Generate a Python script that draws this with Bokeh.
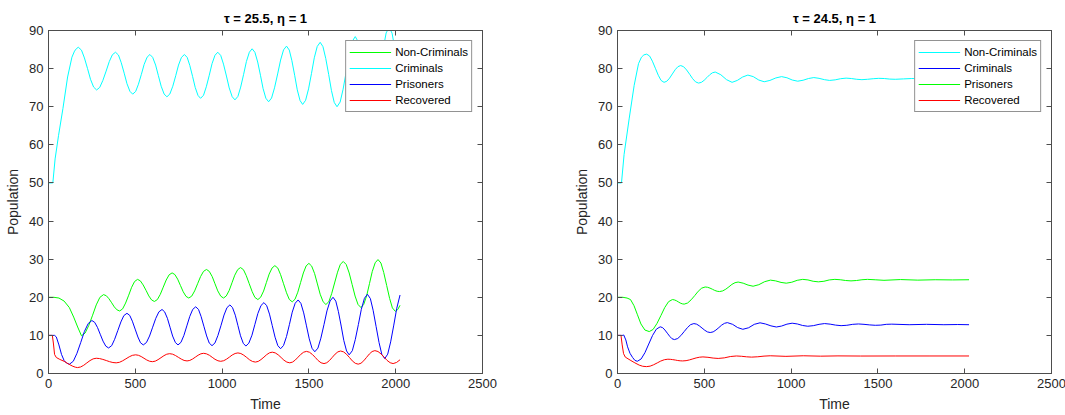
from bokeh.plotting import figure
from bokeh.layouts import row
from bokeh.models import Range1d, FixedTicker, LinearAxis, Legend, LegendItem
from bokeh.embed import file_html
from bokeh.resources import INLINE

# ---------------- data ----------------
X_TICKS = [0, 500, 1000, 1500, 2000, 2500]
Y_TICKS = [0, 10, 20, 30, 40, 50, 60, 70, 80, 90]
TITLE_LEFT = "τ = 25.5, η = 1"
TITLE_RIGHT = "τ = 24.5, η = 1"
X_LABEL = "Time"
Y_LABEL = "Population"

# Left panel (tau = 25.5)
L_GREEN_T = [0, 30, 60, 90, 120, 145, 168, 190,
             211, 232, 254, 275, 296, 317, 333, 348, 364, 379, 395, 410,
             427, 444, 462, 479, 496, 513, 529, 545, 562, 578, 594, 610,
             627, 644, 661, 678, 695, 712, 728, 744, 760, 776, 792, 808,
             825, 842, 859, 876, 893, 910, 926, 943, 959, 975, 992, 1008,
             1024, 1041, 1057, 1073, 1090, 1106, 1123, 1139, 1156, 1173, 1189, 1206,
             1222, 1239, 1255, 1271, 1288, 1304, 1321, 1337, 1354, 1371, 1387, 1404,
             1420, 1436, 1452, 1468, 1484, 1500, 1516, 1533, 1549, 1565, 1582, 1598,
             1615, 1631, 1648, 1665, 1681, 1698, 1715, 1732, 1749, 1766, 1783, 1800,
             1816, 1833, 1849, 1865, 1882, 1898, 1915, 1931, 1948, 1965, 1981, 1998,
             2012, 2025]
L_GREEN_V = [20, 20, 19.8, 19.0, 17.3, 14.8, 12.2, 9.9,
             10.62, 12.6, 15.3, 18.0, 19.98, 20.7, 20.41, 19.63, 18.55, 17.48, 16.69, 16.4,
             16.96, 18.48, 20.55, 22.63, 24.14, 24.7, 24.31, 23.25, 21.8, 20.35, 19.29, 18.9,
             19.4, 20.78, 22.65, 24.53, 25.9, 26.4, 25.96, 24.75, 23.1, 21.45, 20.24, 19.8,
             20.3, 21.68, 23.55, 25.43, 26.8, 27.3, 26.8, 25.43, 23.55, 21.68, 20.3, 19.8,
             20.34, 21.8, 23.8, 25.8, 27.26, 27.8, 27.24, 25.7, 23.6, 21.5, 19.96, 19.4,
             20.0, 21.63, 23.85, 26.08, 27.7, 28.3, 27.66, 25.93, 23.55, 21.18, 19.44, 18.8,
             19.48, 21.33, 23.85, 26.38, 28.22, 28.9, 28.18, 26.2, 23.5, 20.8, 18.82, 18.1,
             18.86, 20.93, 23.75, 26.58, 28.64, 29.4, 28.59, 26.38, 23.35, 20.33, 18.11, 17.3,
             18.14, 20.45, 23.6, 26.75, 29.06, 29.9, 28.99, 26.5, 23.1, 19.7, 17.21, 16.3,
             16.8, 17.9]

L_CYAN_T = [0, 25, 38, 58, 83, 110, 135, 150, 162, 172,
            190, 207, 225, 242, 260, 277, 295, 313, 332, 350, 368, 386,
            403, 419, 436, 452, 469, 485, 502, 518, 535, 551, 568, 584,
            600, 617, 633, 649, 666, 682, 699, 716, 733, 749, 766, 783,
            799, 814, 830, 845, 861, 876, 893, 909, 926, 942, 959, 975,
            992, 1008, 1025, 1041, 1058, 1074, 1091, 1107, 1124, 1140, 1157, 1173,
            1189, 1205, 1221, 1236, 1252, 1268, 1285, 1302, 1320, 1337, 1354, 1371,
            1387, 1402, 1418, 1433, 1449, 1464, 1481, 1498, 1515, 1531, 1548, 1565,
            1581, 1597, 1614, 1630, 1646, 1662, 1680, 1697, 1715, 1732, 1750, 1767,
            1783, 1799, 1815, 1830, 1846, 1862, 1879, 1895, 1912, 1929, 1945, 1962,
            1979, 1995, 2012, 2025]
L_CYAN_V = [50, 50, 56.3, 62.5, 69.5, 77.8, 83.0, 84.6, 85.3, 85.6,
            84.85, 82.8, 80.0, 77.2, 75.15, 74.4, 75.06, 76.88, 79.35, 81.83, 83.64, 84.3,
            83.56, 81.55, 78.8, 76.05, 74.04, 73.3, 74.0, 75.9, 78.5, 81.1, 83.0, 83.7,
            82.96, 80.93, 78.15, 75.38, 73.34, 72.6, 73.34, 75.38, 78.15, 80.93, 82.96, 83.7,
            82.93, 80.83, 77.95, 75.08, 72.97, 72.2, 73.01, 75.23, 78.25, 81.28, 83.49, 84.3,
            83.46, 81.18, 78.05, 74.93, 72.64, 71.8, 72.7, 75.15, 78.5, 81.85, 84.3, 85.2,
            84.27, 81.73, 78.25, 74.78, 72.23, 71.3, 72.28, 74.95, 78.6, 82.25, 84.92, 85.9,
            84.87, 82.08, 78.25, 74.43, 71.63, 70.6, 71.69, 74.68, 78.75, 82.83, 85.81, 86.9,
            85.77, 82.68, 78.45, 74.23, 71.13, 70.0, 71.23, 74.6, 79.2, 83.8, 87.17, 88.4,
            87.12, 83.63, 78.85, 74.08, 70.58, 69.3, 70.74, 74.68, 80.05, 85.43, 89.36, 90.8,
            89.31, 85.25, 79.7, 75.4]

L_BLUE_T = [0, 35, 45, 60, 75, 90, 105, 121,
            143, 164, 186, 207, 229, 250, 266, 282, 298, 314, 330, 346,
            364, 381, 399, 417, 434, 452, 468, 483, 499, 515, 530, 546,
            564, 582, 600, 618, 636, 654, 669, 685, 700, 715, 731, 746,
            763, 780, 797, 814, 831, 848, 864, 879, 895, 911, 926, 942,
            959, 976, 994, 1011, 1028, 1045, 1060, 1076, 1091, 1106, 1122, 1137,
            1154, 1172, 1189, 1206, 1224, 1241, 1257, 1273, 1289, 1305, 1321, 1337,
            1354, 1371, 1388, 1404, 1421, 1438, 1454, 1470, 1486, 1502, 1518, 1534,
            1552, 1569, 1587, 1604, 1622, 1639, 1655, 1670, 1686, 1701, 1717, 1732,
            1750, 1767, 1785, 1802, 1820, 1837, 1854, 1870, 1887, 1904, 1920, 1937,
            1954, 1971, 1989, 2006, 2025]
L_BLUE_V = [10, 10, 9.6, 7.5, 5.0, 3.4, 2.7, 2.45,
            3.22, 5.31, 8.18, 11.04, 13.13, 13.9, 13.42, 12.1, 10.3, 8.5, 7.18, 6.7,
            7.31, 8.98, 11.25, 13.53, 15.19, 15.8, 15.24, 13.73, 11.65, 9.58, 8.06, 7.5,
            8.12, 9.83, 12.15, 14.48, 16.18, 16.8, 16.18, 14.48, 12.15, 9.83, 8.12, 7.5,
            8.17, 10.0, 12.5, 15.0, 16.83, 17.5, 16.82, 14.95, 12.4, 9.85, 7.98, 7.3,
            8.02, 9.98, 12.65, 15.33, 17.28, 18.0, 17.28, 15.3, 12.6, 9.9, 7.92, 7.2,
            7.96, 10.05, 12.9, 15.75, 17.84, 18.6, 17.79, 15.58, 12.55, 9.53, 7.31, 6.5,
            7.36, 9.7, 12.9, 16.1, 18.44, 19.3, 18.39, 15.9, 12.5, 9.1, 6.61, 5.7,
            6.66, 9.28, 12.85, 16.43, 19.04, 20.0, 18.99, 16.23, 12.45, 8.68, 5.91, 4.9,
            5.97, 8.88, 12.85, 16.83, 19.73, 20.8, 19.67, 16.58, 12.35, 8.13, 5.03, 3.9,
            5.08, 8.3, 12.7, 17.1, 20.6]

L_RED_T = [0, 22, 28, 35, 45, 65, 90, 115, 140, 155, 167,
           185, 203, 221, 239, 257, 275, 294, 313, 333, 352, 371, 390,
           409, 427, 446, 465, 483, 502, 518, 534, 550, 566, 582, 598,
           615, 631, 648, 665, 681, 698, 715, 731, 748, 765, 781, 798,
           814, 830, 846, 862, 878, 894, 910, 927, 943, 959, 976, 992,
           1009, 1025, 1042, 1058, 1075, 1091, 1108, 1125, 1142, 1158, 1175, 1192,
           1208, 1224, 1241, 1257, 1273, 1289, 1306, 1323, 1340, 1356, 1373, 1390,
           1406, 1422, 1438, 1454, 1470, 1486, 1503, 1520, 1537, 1553, 1570, 1587,
           1603, 1619, 1635, 1651, 1667, 1683, 1700, 1717, 1734, 1750, 1767, 1784,
           1800, 1816, 1832, 1848, 1864, 1880, 1898, 1915, 1933, 1950, 1968, 1985,
           2005, 2025]
L_RED_V = [10, 10, 8.0, 5.0, 4.2, 3.7, 3.2, 2.5, 1.9, 1.65, 1.55,
           1.71, 2.16, 2.78, 3.39, 3.84, 4.0, 3.92, 3.7, 3.4, 3.1, 2.88, 2.8,
           2.94, 3.33, 3.85, 4.38, 4.76, 4.9, 4.78, 4.45, 4.0, 3.55, 3.22, 3.1,
           3.24, 3.63, 4.15, 4.68, 5.06, 5.2, 5.07, 4.73, 4.25, 3.78, 3.43, 3.3,
           3.43, 3.8, 4.3, 4.8, 5.17, 5.3, 5.16, 4.78, 4.25, 3.73, 3.34, 3.2,
           3.35, 3.75, 4.3, 4.85, 5.25, 5.4, 5.24, 4.8, 4.2, 3.6, 3.16, 3.0,
           3.17, 3.65, 4.3, 4.95, 5.43, 5.6, 5.41, 4.9, 4.2, 3.5, 2.99, 2.8,
           3.0, 3.55, 4.3, 5.05, 5.6, 5.8, 5.59, 5.0, 4.2, 3.4, 2.81, 2.6,
           2.82, 3.43, 4.25, 5.08, 5.68, 5.9, 5.67, 5.04, 4.18, 3.31, 2.68, 2.45,
           2.69, 3.34, 4.23, 5.11, 5.76, 6.0, 5.77, 5.15, 4.3, 3.45, 2.83, 2.6,
           2.9, 3.6]

# Right panel (tau = 24.5)
R_CYAN_T = [0, 23, 38, 67, 96, 121, 138, 152, 168,
            185, 201, 218, 235, 251, 268, 284, 300, 316, 332, 348, 364,
            381, 398, 416, 433, 450, 467, 483, 499, 515, 531, 547, 563,
            595, 628, 660, 690, 721, 751, 782, 814, 845, 878, 912, 945, 976, 1007, 1038, 1069, 1100, 1131,
            1161, 1192, 1222, 1254, 1285, 1317, 1347, 1378, 1408, 1440, 1473, 1505, 1537, 1568, 1600,
            1648, 1695, 1800, 1900, 2025]
R_CYAN_V = [50, 50, 57.5, 66.8, 75.6, 81.3, 83.0, 83.6, 83.8,
            83.3, 81.95, 80.1, 78.25, 76.9, 76.4, 76.69, 77.5, 78.6, 79.7, 80.51, 80.8,
            80.49, 79.65, 78.5, 77.35, 76.51, 76.2, 76.39, 76.93, 77.65, 78.38, 78.91, 79.1,
            78.4, 77.1, 76.4, 76.9, 77.8, 78.3, 77.9, 77.0, 76.55, 76.9, 77.55, 77.9, 77.6, 77.0, 76.7, 76.95, 77.4,
            77.65, 77.45, 77.1, 76.9, 77.05, 77.35, 77.5, 77.4, 77.2, 77.1, 77.2, 77.35, 77.45, 77.4, 77.25, 77.2,
            77.3, 77.4, 77.3, 77.35, 77.3]

R_BLUE_T = [0, 28, 36, 48, 58, 72, 87, 100, 114,
            136, 158, 180, 202, 224, 246, 260, 273, 287, 301, 314, 328,
            347, 365, 384, 403, 421, 440, 456, 471, 487, 503, 518, 534,
            551, 567, 584, 600, 617, 633,
            663, 692, 722, 755, 788, 821, 852, 884, 915, 945, 976, 1006, 1036, 1066, 1096, 1128, 1161,
            1193, 1225, 1256, 1288, 1321, 1355, 1388, 1420, 1453, 1485, 1517, 1548, 1580,
            1680, 1780, 1880, 1960, 2025]
R_BLUE_V = [10, 10, 10.1, 8.8, 7.0, 5.3, 4.2, 3.45, 3.2,
            3.81, 5.46, 7.73, 9.99, 11.64, 12.25, 12.03, 11.41, 10.58, 9.74, 9.12, 8.9,
            9.18, 9.95, 11.0, 12.05, 12.82, 13.1, 12.94, 12.51, 11.93, 11.34, 10.91, 10.75,
            10.92, 11.4, 12.05, 12.7, 13.18, 13.35,
            12.9, 12.05, 11.6, 12.0, 12.9, 13.3, 13.0, 12.5, 12.2, 12.45, 12.95, 13.2, 13.0, 12.6, 12.4, 12.55, 12.9,
            13.1, 12.95, 12.7, 12.55, 12.65, 12.9, 13.0, 12.9, 12.75, 12.65, 12.7, 12.9, 12.95,
            12.8, 12.9, 12.8, 12.85, 12.8]

R_GREEN_T = [0, 30, 55, 75, 95, 115, 135, 158, 183,
             205, 227, 250, 272, 294, 316, 327, 339, 350, 361, 373, 384,
             404, 424, 445, 465, 485, 505, 519, 533, 547, 560, 574, 588,
             606, 624, 642, 659, 677, 695,
             724, 752, 781, 814, 848, 881, 911, 942, 972, 1004, 1035, 1067, 1097, 1127, 1157, 1189, 1220,
             1252, 1283, 1314, 1345, 1377, 1408, 1440, 1488, 1535, 1630, 1730, 1830, 1930, 2025]
R_GREEN_V = [20, 20, 19.8, 19.4, 17.8, 15.4, 13.0, 11.4, 11.0,
             11.56, 13.1, 15.2, 17.3, 18.84, 19.4, 19.32, 19.1, 18.8, 18.5, 18.28, 18.2,
             18.5, 19.33, 20.45, 21.58, 22.4, 22.7, 22.62, 22.4, 22.1, 21.8, 21.58, 21.5,
             21.67, 22.13, 22.75, 23.38, 23.83, 24.0,
             23.7, 23.2, 22.9, 23.3, 24.1, 24.5, 24.3, 23.9, 23.7, 23.95, 24.45, 24.7, 24.55, 24.2, 24.05, 24.2, 24.55,
             24.7, 24.6, 24.4, 24.3, 24.4, 24.6, 24.7, 24.58, 24.45, 24.65, 24.5, 24.6, 24.55, 24.6]

R_RED_T = [0, 20, 27, 35, 45, 77, 100, 125, 145, 167,
           188, 208, 229, 249, 270, 290, 304, 318, 333, 347, 361, 375,
           395, 414, 434, 453, 473, 492,
           521, 551, 580, 615, 650, 685, 714, 743, 772, 808, 844, 880,
           970, 1070, 1170, 1270, 1400, 1600, 1800, 2025]
R_RED_V = [10, 10, 7.5, 5.2, 4.3, 3.4, 2.8, 2.2, 1.9, 1.8,
           1.93, 2.29, 2.78, 3.26, 3.62, 3.75, 3.72, 3.64, 3.53, 3.41, 3.33, 3.3,
           3.37, 3.56, 3.83, 4.09, 4.28, 4.35,
           4.25, 4.05, 3.95, 4.1, 4.45, 4.6, 4.52, 4.38, 4.3, 4.39, 4.56, 4.65,
           4.5, 4.65, 4.55, 4.62, 4.58, 4.6, 4.6, 4.6]

LEFT_SERIES = [("Non-Criminals", "#00ff00", L_GREEN_T, L_GREEN_V),
               ("Criminals", "#00ffff", L_CYAN_T, L_CYAN_V),
               ("Prisoners", "#0000ff", L_BLUE_T, L_BLUE_V),
               ("Recovered", "#ff0000", L_RED_T, L_RED_V)]
RIGHT_SERIES = [("Non-Criminals", "#00ffff", R_CYAN_T, R_CYAN_V),
                ("Criminals", "#0000ff", R_BLUE_T, R_BLUE_V),
                ("Prisoners", "#00ff00", R_GREEN_T, R_GREEN_V),
                ("Recovered", "#ff0000", R_RED_T, R_RED_V)]

# ---------------- styling ----------------
FONT = "Liberation Sans"
AX = "#4d4d4d"
TXT = "#262626"


def style_axis(ax, ticks, show_labels=True):
    ax.ticker = FixedTicker(ticks=ticks)
    ax.major_tick_in = 5
    ax.major_tick_out = 0
    ax.minor_tick_line_color = None
    ax.axis_line_color = AX
    ax.major_tick_line_color = AX
    ax.major_label_text_font = FONT
    if show_labels:
        ax.major_label_text_color = TXT
        ax.major_label_text_font_size = "13px"
        ax.major_label_standoff = 5
    else:
        ax.major_label_text_color = None
        ax.major_label_text_font_size = "1px"
        ax.major_label_standoff = 0


def make_fig(title, series, b_left, b_right):
    p = figure(frame_width=434, frame_height=343,
               x_range=Range1d(0, 2500), y_range=Range1d(0, 90),
               output_backend="svg", toolbar_location=None,
               min_border_left=b_left, min_border_right=b_right,
               min_border_top=30, min_border_bottom=42,
               title=title, background_fill_color="white", border_fill_color="white")
    p.title.text_font = FONT
    p.title.text_font_size = "13px"
    p.title.text_font_style = "bold"
    p.title.align = "center"
    p.title.text_color = "#000000"
    p.xgrid.visible = False
    p.ygrid.visible = False
    p.outline_line_color = AX
    p.outline_line_alpha = 1

    style_axis(p.xaxis[0], X_TICKS)
    style_axis(p.yaxis[0], Y_TICKS)
    p.xaxis.axis_label = X_LABEL
    p.yaxis.axis_label = Y_LABEL
    for ax in (p.xaxis[0], p.yaxis[0]):
        ax.axis_label_text_font = FONT
        ax.axis_label_text_font_size = "14px"
        ax.axis_label_text_font_style = "normal"
        ax.axis_label_text_color = TXT
        ax.axis_label_standoff = 5

    top = LinearAxis()
    style_axis(top, X_TICKS, show_labels=False)
    p.add_layout(top, "above")
    rgt = LinearAxis()
    style_axis(rgt, Y_TICKS, show_labels=False)
    p.add_layout(rgt, "right")

    items = []
    for name, color, t, v in series:
        r = p.line(t, v, line_color=color, line_width=1)
        items.append(LegendItem(label=name, renderers=[r]))
    leg = Legend(items=items, location="top_right", margin=10, padding=3,
                 spacing=0, label_height=16, glyph_height=16, glyph_width=42,
                 label_standoff=4, label_text_font=FONT, label_text_font_size="11.5px",
                 label_text_color="#000000", border_line_color="#262626",
                 border_line_width=1, background_fill_color="white",
                 background_fill_alpha=1)
    p.add_layout(leg)
    return p


left = make_fig(TITLE_LEFT, LEFT_SERIES, 48, 58)
right = make_fig(TITLE_RIGHT, RIGHT_SERIES, 77, 15)
layout = row(left, right)

open("out.html", "w").write(file_html(layout, INLINE))
